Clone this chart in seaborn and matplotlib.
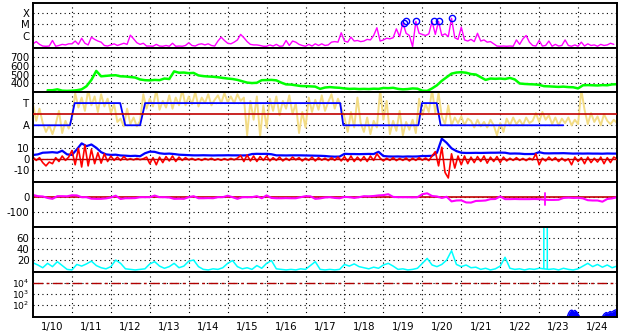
import numpy as np
import matplotlib
matplotlib.use("Agg")
import matplotlib.pyplot as plt
from matplotlib.ticker import NullLocator
import seaborn as sns

# ---------------- data ----------------
day_labels = ["1/10", "1/11", "1/12", "1/13", "1/14", "1/15", "1/16", "1/17",
              "1/18", "1/19", "1/20", "1/21", "1/22", "1/23", "1/24"]

# X-ray flux, log10(W/m2), 2-hourly from 1/10 00UT
xray_log = [
    -6.75, -6.55, -6.8, -6.95, -6.97, -6.95, -6.45, -6.97, -6.9, -6.8, -6.85, -6.75,
    -6.75, -6.5, -6.8, -6.25, -6.7, -6.85, -6.15, -6.35, -6.5, -6.6, -6.9, -6.95,
    -6.85, -6.75, -6.9, -6.8, -6.7, -6.8, -5.97, -6.3, -6.65, -6.8, -6.7, -6.95,
    -6.95, -6.97, -6.8, -6.95, -6.97, -6.9, -6.97, -6.7, -6.97, -6.95, -6.97, -6.9,
    -6.65, -6.9, -6.95, -6.8, -6.75, -6.85, -6.75, -6.9, -6.95, -6.5, -6.15, -6.45,
    -6.7, -6.75, -6.6, -6.4, -5.9, -6.2, -6.55, -6.8, -6.85, -6.85, -6.9, -6.97,
    -6.97, -6.85, -6.95, -6.8, -6.97, -6.95, -6.45, -6.9, -6.5, -6.6, -6.8, -6.9,
    -6.97, -6.8, -6.95, -6.75, -6.9, -6.75, -6.9, -6.85, -6.6, -6.55, -6.6, -5.75,
    -6.5, -6.6, -6.15, -6.5, -6.45, -6.55, -6.5, -6.35, -6.4, -6.0, -5.3, -6.5,
    -6.4, -6.25, -6.3, -6.2, -5.4, -6.1, -4.85, -5.8, -6.0, -7.0, -4.73, -5.8,
    -5.9, -6.0, -5.85, -4.73, -5.9, -4.73, -6.0, -5.85, -6.1, -4.45, -6.2, -6.35,
    -5.25, -6.4, -6.5, -6.35, -6.55, -5.8, -6.5, -6.4, -6.6, -6.55, -6.75, -6.95,
    -6.97, -6.95, -6.97, -6.95, -6.97, -6.4, -6.8, -6.3, -6.0, -6.6, -6.9, -6.95,
    -6.45, -6.95, -6.9, -6.5, -6.97, -6.8, -6.95, -6.9, -6.4, -6.9, -6.97, -6.85,
    -6.97, -6.6, -6.95, -6.75, -6.9, -6.85, -6.97, -6.8, -6.9, -6.85, -6.7, -6.8,
]
flare_days = [9.54, 9.57, 9.85, 10.31, 10.44, 10.76]
flare_log = [-4.85, -4.70, -4.73, -4.73, -4.73, -4.45]

# Solar wind speed (km/s), 3-hourly starting at 1/10 09UT
speed = [
    325, 325, 335, 320, 318, 320, 325, 335, 370, 440,
    540, 480, 485, 490, 492, 480, 478, 472, 466, 445,
    437, 435, 440, 437, 455, 450, 535, 520, 522, 515,
    518, 490, 482, 478, 475, 470, 462, 455, 450, 440,
    425, 410, 405, 408, 437, 438, 440, 435, 410, 390,
    388, 380, 372, 370, 368, 365, 340, 355, 360, 355,
    352, 345, 340, 342, 338, 340, 338, 342, 340, 350,
    348, 352, 340, 335, 338, 345, 342, 320, 318, 345,
    380, 430, 470, 510, 522, 526, 520, 505, 500, 470,
    440, 455, 452, 455, 450, 462, 445, 400, 395, 392,
    390, 385, 370, 368, 365, 362, 365, 360, 358, 345,
    380, 382, 380, 378, 382, 380, 390, 392,
]
speed_start = 3  # first 3-hour slot with data

# IMF angle (scaled, T=+1, A=-1), 2-hourly
imf_angle = [
    0.9, -0.6, 0.5, -0.8, -1.6, -1.0, -1.8, -0.9, 0.3, -1.7, -0.6, -1.3, -0.4,
    1.9, 0.6, 1.5, 0.3, 2.2, 0.8, 1.6, 0.2, 1.8, 0.7, 1.4, 0.1, 0.9, -0.7,
    -0.4, -1.1, 0.5, -0.9, -0.3, -1.1, -0.6,
    1.8, 0.5, 1.4, 0.7, 2.2, 0.4, 1.2, 0.6, 1.7, 0.5, 1.5, 0.8,
    2.2, 0.8, 1.6, 0.9, 2.0, 0.7, 1.5, 1.0, 1.8, 0.8, 1.3,
    1.7, 1.0, 1.9, 1.1, 1.6, 1.0, 1.8, 1.2,
    1.5, -1.9, 1.2, -0.5, 1.6, -2.0, 0.8, -1.2, 1.4,
    0.3, 1.6, -0.1, 1.2, 0.5, 1.7, 0.0, 1.0,
    -1.7, 0.2, -1.2, 1.5, 0.2, 1.3, 0.4, 1.7, 0.3, 1.1,
    1.8, 0.5, 1.4, 0.6, -0.3, -1.6, 0.2, -1.2, 1.5, -0.8,
    -1.6, -0.3, -1.8, -0.6, -1.2, 2.2, -0.5, 1.2,
    -1.8, -0.6, -1.5, 0.3, -1.9, -0.7, -1.4, -0.5, -1.7,
    1.4, -0.1, 0.9, 0.2, 2.2, 0.1, 1.9,
    -0.2, -0.9, 0.8, -1.0, -0.3, -0.8, -0.2, -1.0, -0.4,
    -0.6, -1.2, -0.5, -1.1, -0.7, -1.2, -0.5, -1.0, -1.9, -0.8, -1.6,
    -0.4, -1.0, -0.3, -0.9, -0.5, -1.0, -0.3, -0.8, -0.6,
    0.1, -0.7, 0.2, -0.5, -0.1,
    -0.9, -0.3, -1.0, -0.4, -0.8, -0.3, -1.0, -0.5, -0.9, 2.2, 0.4,
    -0.9, 0.1, -0.7, -0.2, -1.0, 0.0, -0.6, -0.9, -0.5, -0.8,
]

# IMF sector boundaries (day, sector: +1 toward, -1 away)
sector_days = [0, 0.95, 1.07, 2.24, 2.37, 2.75, 2.88, 7.89, 7.97, 9.90, 9.99, 10.37, 10.47, 13.62]
sector_val = [-1, -1, 1, 1, -1, -1, 1, 1, -1, -1, 1, 1, -1, -1]

# IMF Bt (nT), 3-hourly
bt = [
    3.9, 4.5, 6.0, 6.2, 6.5, 6.0, 7.8, 4.5, 4.0, 9.0, 14.5, 12.0, 13.5, 10.5, 6.5, 4.5,
    4.0, 4.2, 3.5, 3.3, 3.0, 3.2, 2.8, 5.5, 7.0, 6.8, 5.5, 5.0, 5.2, 4.8, 4.2, 4.0, 3.8,
    3.6, 3.6, 3.7, 3.6, 3.5, 3.6, 3.6, 3.7, 3.6, 3.6, 3.5, 3.6,
    4.8, 5.0, 4.9, 5.0, 4.6,
    3.6, 3.6, 3.5, 3.6, 3.6, 3.6, 3.5, 3.4, 3.3, 3.2, 3.0, 2.6,
    2.4, 2.5, 5.0, 4.8, 4.8, 4.7, 4.8, 4.9, 4.8, 6.8, 3.0,
    2.6, 2.5, 2.6, 2.4, 2.6, 2.5, 2.6, 3.0, 3.0, 3.2,
    6.0, 18.8, 15.0, 10.0, 7.5, 6.0,
    5.8, 5.8, 5.9, 5.8, 5.9, 6.0, 6.0, 6.1, 6.0, 5.2, 5.3, 5.2,
    4.8, 4.8, 4.9, 6.5, 5.5, 5.4, 5.5, 5.5, 5.6, 5.4,
    5.2, 5.3, 5.2, 5.3, 5.2, 5.2, 5.1, 5.3, 5.2, 5.2,
]

# IMF Bz (nT), 2-hourly
bz = [
    2.0, -1.0, 1.5, -3.0, -6.0, -2.5, -4.0, 1.5, -2.0, 3.0, -1.0, 2.0,
    8.0, -5.0, 10.0, -7.0, 13.0, -6.0, 9.0, -4.0, 6.0, -3.5, 5.0, -2.0,
    3.0, -1.0, 2.0, -1.0, 2.5, -0.5, 0.5, -0.5, 0.8, -0.3, 0.5,
    2.0, -4.0, 1.5, -5.0, 2.0, -3.0, 2.5, -1.5, 3.0, -2.0, 2.0, -1.0, 1.5, -0.5,
    0.8, -0.8, 0.5, -1.0, 0.7, -0.5, 0.9, -0.8, 0.4, -0.9, 0.6, -0.7, 0.8, -0.5, 1.0,
    3.5, -2.0, 4.0, -1.5, 3.0, -2.0, 2.5, -1.0, 3.0, -1.5,
    1.5, -1.0, 2.0, -1.5, 1.0, -1.0, 2.0, -0.5, 1.5, -1.5, 1.0, -1.0, 2.0, -1.5, 1.5, -0.8, 1.0, -1.2,
    1.5, -1.0, 2.0, -1.5, 2.5, -2.0,
    3.0, -2.0, 2.0, -1.5, 2.5, -2.0, 3.0, -1.0, 5.0,
    1.0, -1.5, 1.0, -1.0, 1.5, -1.2, 0.8, -1.0, 1.2, -1.5, 1.0, -1.0, 1.5, -0.8, 1.2, -1.2, 3.0,
    7.0, -6.0, 11.0, -12.0, -17.0, 5.0, -8.0, 3.0, -5.0,
    3.0, -4.0, 2.0, -3.0, 2.5, -2.0, 3.0, -3.5, 2.0, -2.0, 2.5, -3.0, 2.0, -1.5,
    1.0, -1.0, 1.5, -1.0, 0.8, -1.2, 1.0, -0.5, 5.0, -5.0,
    1.0, -1.5, 2.0, -1.0, 1.5, -2.0, 1.0, -1.5, 0.5,
    -5.0, 2.0, -2.0, 1.5, -4.0, 2.0, -3.0, 1.0, -2.5, 2.0, -4.0, 1.5, -3.0, 2.0, 0.5,
]

# Dst (nT), 3-hourly
dst = [
    15, 7, 5, -5, -11, 7, 7, 6, 13, 12,
    0, 0, -10, -11, -11, -8, -2, 10, -12, -7,
    -7, -6, 0, 0, 0, 11, 0, 0, -2, -11,
    -10, -11, 0, 7, -7, -7, -6, -7, 0, 0,
    10, 0, -11, 0, 0, 0, 7, -7, 12, -5,
    -7, -7, -6, -7, -7, 0, 7, 6, -11, -8,
    -2, 0, -5, -7, 2, 0, -5, 0, 7, 6,
    8, 12, 14, 20, 2, 0, 0, 0, -1, 0,
    20, 26, 8, 5, -5, 3, -28, -22, -21, -35,
    -36, -25, -24, -22, -13, -12, 5, -13, -13, -12,
    -13, -13, -13, -12, -13, -16, -18, -18, -17, -5,
    -3, -5, -4, -8, -20, -22, -22, -30, -12, -8,
    0,
]
dst_glitch_day = [13.15, 13.15]
dst_glitch_val = [27, -51]

# Cyan index, 3-hourly
cyan = [
    15, 11, 6, 14, 8, 17, 10, 3, 2, 12,
    9, 13, 18, 10, 6, 4, 8, 20, 14, 4,
    3, 2, 3, 4, 13, 17, 9, 5, 8, 14,
    6, 9, 18, 20, 8, 3, 2, 4, 3, 6,
    14, 19, 8, 4, 6, 3, 10, 5, 14, 19,
    4, 3, 2, 3, 2, 4, 3, 10, 17, 3,
    2, 3, 2, 3, 12, 9, 13, 8, 6, 4,
    7, 5, 11, 14, 9, 3, 4, 2, 3, 5,
    14, 23, 11, 8, 12, 20, 37, 12, 8, 11,
    6, 7, 3, 5, 2, 4, 9, 25, 5, 3,
    4, 2, 4, 3, 5, 4, 3, 4, 2, 5,
    3, 2, 4, 9, 14, 8, 12, 7, 11, 6,
    9,
]
cyan_glitch_day = [13.12, 13.134, 13.196, 13.21]
cyan_glitch_val = [5, 900, 900, 4]

# Electron flux (log panel)
elec1_days = [13.72, 13.76, 13.80, 13.84, 13.88, 13.92, 13.96, 14.00, 14.04]
elec1_val = [8.8, 20, 32, 36, 28, 34, 26, 16, 8.8]
elec2_days = [14.62, 14.67, 14.72, 14.77, 14.82, 14.87, 14.92, 14.97, 15.0]
elec2_val = [8.8, 16, 22, 19, 27, 24, 32, 38, 42]
elec_threshold = 1e4

# ---------------- plot ----------------
sns.set_theme(style="white")
plt.rcParams['font.family'] = ['DejaVu Sans']
plt.rcParams['mathtext.default'] = 'regular'

W, H = 628, 334
fig, axes = plt.subplots(7, 1, figsize=(W / 100, H / 100), dpi=100, sharex=True)
fig.subplots_adjust(left=33 / W, right=617 / W, top=1 - 2.7 / H, bottom=1 - 316.9 / H, hspace=0)
fig.patch.set_facecolor('white')

DOT = (0, (1, 3))
FS = 7.3

def days(n, step, start=0):
    return (start + np.arange(n)) * step

def lp(ax, x, y, color, lw, **kw):
    sns.lineplot(x=np.asarray(x, float), y=np.asarray(y, float), ax=ax, color=color,
                 linewidth=lw, estimator=None, sort=False, legend=False, **kw)

# Panel 1: X-ray
ax = axes[0]
lp(ax, days(len(xray_log), 1 / 12), xray_log, '#ff00ff', 1.0)
sns.lineplot(x=flare_days, y=flare_log, ax=ax, linestyle='none', marker='o',
             markersize=4.5, markerfacecolor='none', markeredgecolor='#0000ff',
             markeredgewidth=1.0, estimator=None, sort=False, legend=False)
ax.set_ylim(-7.09, -3.04)
ax.set_yticks([-4, -5, -6], ['X', 'M', 'C'])

# Panel 2: solar wind speed
ax = axes[1]
lp(ax, days(len(speed), 1 / 8, speed_start), speed, '#00ff00', 1.8)
ax.set_ylim(300, 800)
ax.set_yticks([700, 600, 500, 400], ['700', '600', '500', '400'])

# Panel 3: IMF sector
ax = axes[2]
lp(ax, days(len(imf_angle), 1 / 12), imf_angle, '#f3dc85', 1.4)
ax.axhline(0, color='#c00000', lw=1.2, zorder=3)
lp(ax, sector_days, sector_val, '#0000ff', 1.3)
ax.set_ylim(-2.09, 1.96)
ax.set_yticks([1, -1], ['T', 'A'])

# Panel 4: Bt / Bz
ax = axes[3]
lp(ax, days(len(bt), 1 / 8), bt, '#0000ff', 1.6)
lp(ax, days(len(bz), 1 / 12), bz, '#ff0000', 1.2)
ax.axhline(0, color='#c00000', lw=1.0, zorder=3)
ax.set_ylim(-20.9, 20)
ax.set_yticks([10, 0, -10], ['10', '0', '-10'])

# Panel 5: Dst
ax = axes[4]
ax.axhline(0, color='#c00000', lw=1.2, zorder=1.8)
lp(ax, days(len(dst), 1 / 8), dst, '#ff00ff', 1.5)
lp(ax, dst_glitch_day, dst_glitch_val, '#ff00ff', 1.3)
ax.set_ylim(-200, 100)
ax.set_yticks([0, -100], ['0', '-100'])

# Panel 6: cyan index
ax = axes[5]
lp(ax, days(len(cyan), 1 / 8), cyan, '#00ffff', 1.1)
lp(ax, cyan_glitch_day, cyan_glitch_val, '#00ffff', 1.1)
ax.set_ylim(-1.8, 80)
ax.set_yticks([60, 40, 20], ['60', '40', '20'])

# Panel 7: electron flux
ax = axes[6]
ax.set_yscale('log')
ax.set_ylim(8.8, 1e5)
ax.axhline(elec_threshold, color='#b00000', lw=1.0, ls=(0, (7, 2.5, 2, 2.5)), zorder=3)
for dd, vv in ((elec1_days, elec1_val), (elec2_days, elec2_val)):
    ax.fill_between(dd, 8.8, vv, color='#0000ff', lw=0)
    lp(ax, dd, vv, '#0000ff', 1.0)
ax.set_yticks([1e4, 1e3, 1e2], ['$10^4$', '$10^3$', '$10^2$'])
ax.yaxis.set_minor_locator(NullLocator())

for ax in axes:
    ax.set_xlim(0, 15)
    ax.set_facecolor('white')
    ax.set_xticks(np.arange(1, 15))
    ax.set_xticks(np.arange(15) + 0.5, day_labels, minor=True)
    ax.tick_params(which='both', length=0, labelsize=FS, colors='black')
    ax.tick_params(axis='y', pad=2.5)
    ax.tick_params(axis='x', which='minor', pad=3.5)
    ax.tick_params(axis='x', which='major', labelbottom=False)
    ax.grid(False)
    ax.grid(axis='x', which='major', color='black', ls=DOT, lw=0.8)
    ax.grid(axis='y', which='major', color='black', ls=DOT, lw=0.8)
    ax.set_xlabel('')
    ax.set_ylabel('')
    for s in ax.spines.values():
        s.set_color('black')
        s.set_linewidth(1.4)
        s.set_visible(True)

axes[-1].tick_params(axis='x', which='minor', labelbottom=True)
axes[-1].tick_params(axis='y', labelsize=6.6)

fig.savefig('out.png', dpi=100, facecolor='white')
